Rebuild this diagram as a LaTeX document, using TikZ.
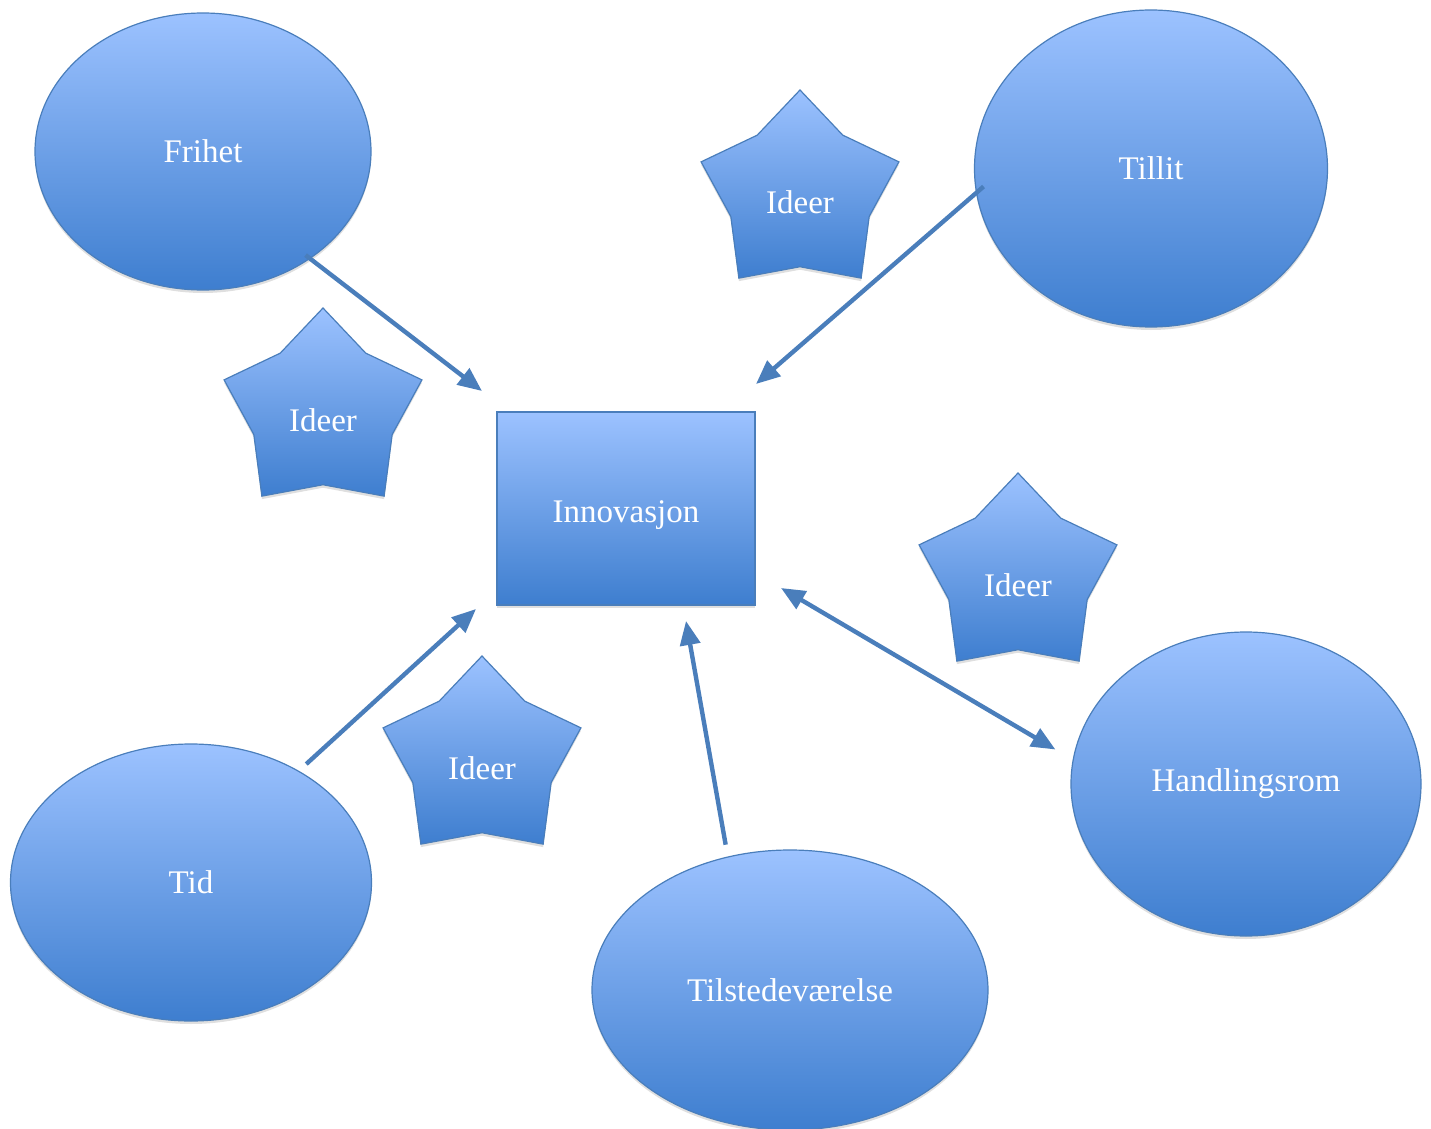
\documentclass[tikz,border=0pt]{standalone}
\usepackage{fontspec}
\setmainfont{Liberation Serif}
\usetikzlibrary{arrows.meta,shapes.geometric,shadows}
\definecolor{shapetop}{HTML}{9CC2FF}
\definecolor{shapebottom}{HTML}{3E7ECF}
\definecolor{shapeline}{HTML}{4A7EBB}
\tikzset{
    blue shape/.style={
        draw=shapeline, line width=0.6pt,
        top color=shapetop, bottom color=shapebottom,
        text=white, font=\fontsize{16.5}{20}\selectfont,
        drop shadow={shadow xshift=0pt, shadow yshift=-1.5pt, opacity=0.25}
    },
    value ellipse/.style={blue shape, ellipse, inner sep=0pt},
    idea star/.style={
        blue shape, star, star points=5, star point ratio=1.43,
        minimum size=104pt, inner sep=0pt, text height=20pt
    },
    centre box/.style={
        blue shape, rectangle, minimum width=129pt, minimum height=96.5pt,
        text height=14pt, text depth=0pt
    },
    link arrow/.style={
        draw=shapeline, line width=2.2pt,
        -{Triangle[length=12pt,width=10pt]}
    }
}
\begin{document}
\begin{tikzpicture}[x=0.5pt, y=-0.5pt]
    \useasboundingbox (0,0) rectangle (1431,1129);
    \node[centre box] (innov) at (626,508.5) {Innovasjon};
    \node[value ellipse, minimum width=168pt, minimum height=138.5pt] (frihet) at (203,151.5) {Frihet};
    \node[value ellipse, minimum width=176.5pt, minimum height=158.5pt] (tillit) at (1151,168.5) {Tillit};
    \node[value ellipse, minimum width=175pt, minimum height=152pt] (handl) at (1246,784) {Handlingsrom};
    \node[value ellipse, minimum width=198pt, minimum height=140pt] (tilst) at (790,990) {Tilstedeværelse};
    \node[value ellipse, minimum width=180.5pt, minimum height=138.5pt] (tid) at (191,882.5) {Tid};
    \node[idea star] (idea1) at (800,194) {Ideer};
    \node[idea star] (idea2) at (323,412) {Ideer};
    \node[idea star] (idea3) at (1018,577) {Ideer};
    \node[idea star] (idea4) at (482,760) {Ideer};
    \coordinate (T1) at (482,391);
    \coordinate (T2) at (756,384);
    \coordinate (T3) at (476,609);
    \coordinate (T4) at (686,621);
    \coordinate (T5) at (781,588);
    \draw[link arrow, shorten <=-3pt] (frihet.-45) -- (T1);
    \draw[link arrow, shorten <=-5pt] (tillit.188.7) -- (T2);
    \draw[link arrow, shorten <=5pt] (tid.46) -- (T3);
    \draw[link arrow, shorten <=6pt] (tilst.115) -- (T4);
    \draw[link arrow, {Triangle[length=12pt,width=10pt]}-{Triangle[length=12pt,width=10pt]}, shorten >=10pt] (T5) -- (handl.172);
\end{tikzpicture}
\end{document}
